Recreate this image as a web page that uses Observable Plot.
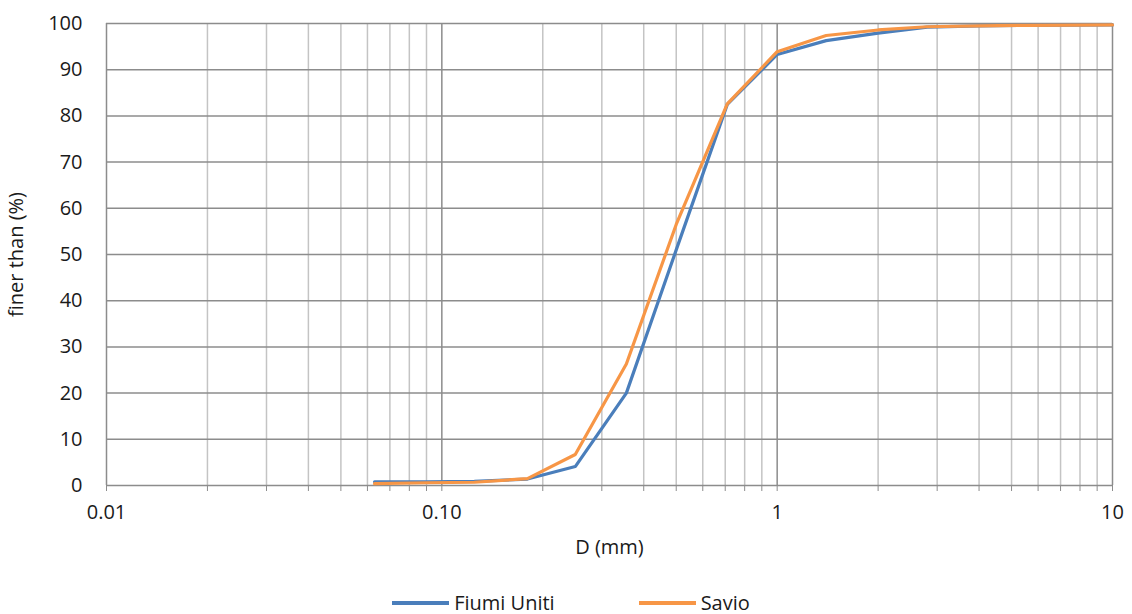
<!DOCTYPE html>
<html>
<head>
<meta charset="utf-8">
<script src="https://cdn.jsdelivr.net/npm/d3@7"></script>
<script src="https://cdn.jsdelivr.net/npm/@observablehq/plot@0.6"></script>
<style>
  html, body { margin: 0; padding: 0; background: #fff; }
  body { width: 1132px; font-family: "Open Sans", "Noto Sans", sans-serif; color: #1a1a1a; }
  #legend { display: flex; justify-content: center; gap: 84px; margin-top: 27px; font-size: 20px; padding-left: 10px; }
  .item { display: flex; align-items: center; gap: 5px; }
  .sw { width: 57px; height: 4px; display: inline-block; }
</style>
</head>
<body>
<div id="chart"></div>
<div id="legend"></div>
<script>
const sizes   = [0.063, 0.09, 0.125, 0.18, 0.25, 0.355, 0.5, 0.71, 1, 1.4, 2, 2.8, 4, 5.6, 10];
const fiumiUniti = [0.8, 0.8, 0.9, 1.4, 4.1, 20.0, 51.0, 82.5, 93.3, 96.3, 97.9, 99.2, 99.5, 99.6, 99.7];
const savio      = [0.4, 0.6, 0.7, 1.5, 6.7, 26.3, 56.5, 82.6, 93.9, 97.4, 98.6, 99.3, 99.5, 99.6, 99.7];
const seriesNames = ["Fiumi Uniti", "Savio"];
const seriesColors = ["#4a7ebb", "#f79646"];
const xDecades = [0.01, 0.1, 1, 10];
const xDecadeLabels = ["0.01", "0.10", "1", "10"];
const yTicks = [0, 10, 20, 30, 40, 50, 60, 70, 80, 90, 100];

const data = [];
sizes.forEach((d, i) => {
  data.push({D: d, pct: fiumiUniti[i], series: seriesNames[0]});
  data.push({D: d, pct: savio[i], series: seriesNames[1]});
});

const minorTicks = [];
for (let k = 0; k < 3; k++) for (let m = 2; m <= 9; m++) minorTicks.push(+(xDecades[k] * m).toPrecision(3));
const allTicks = [...xDecades, ...minorTicks];
const labelFor = v => { const i = xDecades.indexOf(v); return i >= 0 ? xDecadeLabels[i] : ""; };

const chart = Plot.plot({
  width: 1132,
  height: 562,
  marginTop: 23,
  marginBottom: 77,
  marginLeft: 106,
  marginRight: 20,
  style: {fontFamily: "'Open Sans', 'Noto Sans', sans-serif", fontSize: "20px", color: "#1a1a1a"},
  x: {type: "log", domain: [0.01, 10]},
  y: {domain: [0, 100]},
  color: {domain: seriesNames, range: seriesColors},
  marks: [
    Plot.ruleX(minorTicks, {stroke: "#c4c4c4", strokeWidth: 1.5}),
    Plot.ruleX(xDecades, {stroke: "#8c8c8c", strokeWidth: 1.5}),
    Plot.ruleY(yTicks, {stroke: "#8c8c8c", strokeWidth: 1.5}),
    Plot.axisX(allTicks, {tickFormat: labelFor, tickSize: 6, tickPadding: 13, stroke: "#8c8c8c", fontSize: 20,
      label: "D (mm)", labelAnchor: "center", labelArrow: "none", labelOffset: 68}),
    Plot.axisY(yTicks, {tickSize: 0, tickPadding: 24, fontSize: 20,
      label: "finer than (%)", labelAnchor: "center", labelArrow: "none", labelOffset: 98}),
    Plot.line(data, {x: "D", y: "pct", z: "series", stroke: "series", strokeWidth: 3.2, strokeLinejoin: "miter"})
  ]
});
document.getElementById("chart").appendChild(chart);

const legend = document.getElementById("legend");
seriesNames.forEach((n, i) => {
  const it = document.createElement("div");
  it.className = "item";
  it.innerHTML = `<span class="sw" style="background:${seriesColors[i]}"></span><span>${n}</span>`;
  legend.appendChild(it);
});
</script>
</body>
</html>
